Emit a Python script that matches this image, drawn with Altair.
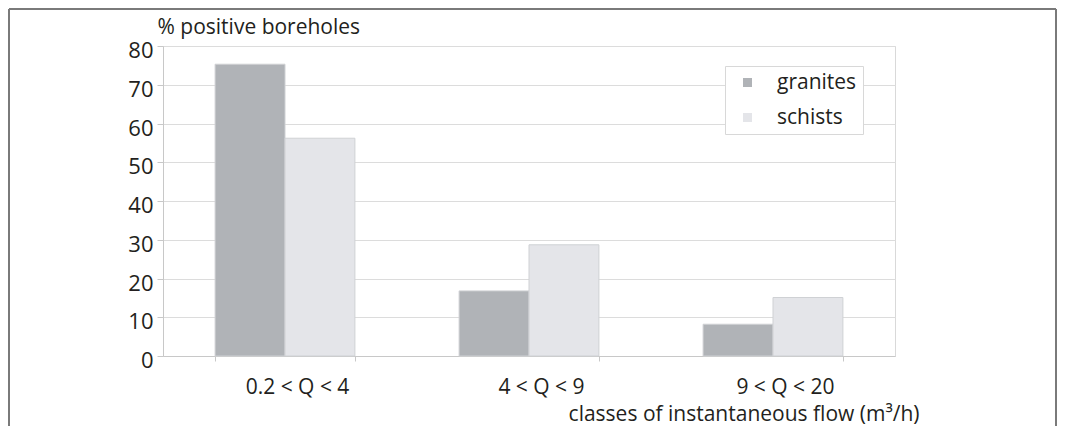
import altair as alt
import pandas as pd

categories = ["0.2 < Q < 4", "4 < Q < 9", "9 < Q < 20"]
series = ["granites", "schists"]
granites = [75.3, 16.8, 8.2]
schists = [56.2, 28.7, 15.1]
y_ticks = [0, 10, 20, 30, 40, 50, 60, 70, 80]
colors = ["#b0b3b7", "#e4e5e9"]

rows = []
for c, g, s in zip(categories, granites, schists):
    rows.append({"cls": c, "rock": "granites", "pct": g})
    rows.append({"cls": c, "rock": "schists", "pct": s})
df = pd.DataFrame(rows)

FONT = "Open Sans"
TEXT = "#231f20"
LINE = "#c8c8c8"

bars = alt.Chart(df).mark_bar(stroke="#cfd1d4", strokeWidth=1).encode(
    x=alt.X(
        "cls:N",
        sort=categories,
        scale=alt.Scale(paddingInner=0.427, paddingOuter=0.2135),
        axis=alt.Axis(
            title="classes of instantaneous flow (m³/h)",
            labelAngle=0,
            tickBand="extent",
            grid=False,
            tickSize=5,
            labelOffset=12,
            labelBaseline="alphabetic",
            labelPadding=32,
            labelFontSize=21,
            titleFontSize=21,
            titleX=756,
            titleY=64,
            titleAlign="right",
            titleBaseline="alphabetic",
        ),
    ),
    xOffset=alt.XOffset("rock:N", sort=series, scale=alt.Scale(paddingInner=0, paddingOuter=0)),
    y=alt.Y(
        "pct:Q",
        scale=alt.Scale(domain=[0, 80], nice=False),
        axis=alt.Axis(
            values=y_ticks,
            title="% positive boreholes",
            grid=True,
            tickSize=6,
            labelPadding=4,
            labelOffset=4.5,
            labelFontSize=22,
            titleFontSize=21,
            titleAngle=0,
            titleX=-6,
            titleY=-13,
            titleAlign="left",
            titleBaseline="alphabetic",
        ),
    ),
    color=alt.Color(
        "rock:N",
        sort=series,
        scale=alt.Scale(domain=series, range=colors),
        legend=alt.Legend(
            title=None,
            orient="none",
            legendX=562,
            legendY=20,
            symbolType="square",
            symbolSize=81,
            symbolStrokeWidth=0,
            labelFontSize=21,
            labelFont=FONT,
            labelColor=TEXT,
            labelExpr="datum.label + '\u2002\u2009'",
            padding=6,
            rowPadding=13,
            symbolOffset=6,
            labelOffset=19,
            strokeColor="#d8d8d8",
            fillColor="white",
        ),
    ),
)

frame_src = alt.Data(values=[{"k": 0}])
FRAME = "#7a7a7a"
left = alt.Chart(frame_src).mark_rule(color=FRAME, strokeWidth=2).encode(
    x=alt.value(-154), y=alt.value(-37), y2=alt.value(380)
)
top = alt.Chart(frame_src).mark_rule(color=FRAME, strokeWidth=2).encode(
    x=alt.value(-154), x2=alt.value(893), y=alt.value(-37)
)
right = alt.Chart(frame_src).mark_rule(color=FRAME, strokeWidth=2).encode(
    x=alt.value(893), y=alt.value(-37), y2=alt.value(380)
)

chart = (
    alt.layer(bars, left, top, right)
    .properties(
        width=732,
        height=310,
        autosize=alt.AutoSizeParams(type="none"),
        padding={"left": 155, "top": 38, "right": 162, "bottom": 70},
        background="white",
    )
    .configure_view(stroke="#d9d9d9", strokeWidth=1)
    .configure_axis(
        domainColor=LINE,
        tickColor=LINE,
        gridColor="#dcdcdc",
        labelFont=FONT,
        titleFont=FONT,
        labelColor=TEXT,
        titleColor=TEXT,
        titleFontWeight="normal",
    )
)

chart.save("out.html", embed_options={"renderer": "svg", "actions": False})
